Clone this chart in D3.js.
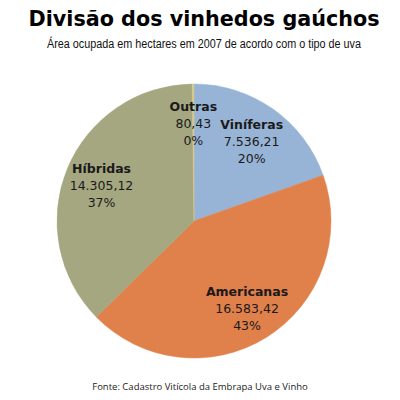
<!DOCTYPE html>
<html>
<head>
<meta charset="utf-8">
<script src="https://cdn.jsdelivr.net/npm/d3@7"></script>
<style>
  body { margin: 0; background: #fff; }
  svg { display: block; }
</style>
</head>
<body>
<svg id="chart" width="400" height="400"></svg>
<script>
// tipos de uva, clockwise from 12 o'clock
var categories = ["Viníferas", "Americanas", "Híbridas", "Outras"];
var hectares = [7536.21, 16583.42, 14305.12, 80.43];
var colors = ["#97b4d6", "#e0804a", "#a5a781", "#d8c98a"];

var title = "Divisão dos vinhedos gaúchos";
var subtitle = "Área ocupada em hectares em 2007 de acordo com o tipo de uva";
var source = "Fonte: Cadastro Vitícola da Embrapa Uva e Vinho";

var width = 400, height = 400;
var cx = 194, cy = 221, radius = 137;

var br = d3.formatLocale({decimal: ",", thousands: ".", grouping: [3], currency: ["R$", ""]});
var fmtNum = br.format(",.2f");
var fmtPct = d3.format(".0%");

var svg = d3.select("#chart");

svg.append("text")
  .attr("x", 204).attr("y", 26)
  .attr("text-anchor", "middle")
  .style("font-family", "DejaVu Sans, Verdana, sans-serif")
  .style("font-weight", "bold")
  .style("font-size", "22px")
  .attr("textLength", 351)
  .attr("lengthAdjust", "spacingAndGlyphs")
  .style("fill", "#000")
  .text(title);

svg.append("text")
  .attr("x", 204).attr("y", 48)
  .attr("text-anchor", "middle")
  .style("font-family", "Liberation Sans, Arial, sans-serif")
  .style("font-size", "12px")
  .attr("textLength", 314)
  .attr("lengthAdjust", "spacingAndGlyphs")
  .style("fill", "#111")
  .text(subtitle);

var data = categories.map(function(c, i) {
  return {name: c, value: hectares[i], color: colors[i]};
});
var total = d3.sum(hectares);

var pie = d3.pie()
  .value(function(d) { return d.value; })
  .sort(null);

var arc = d3.arc().innerRadius(0).outerRadius(radius);
var labelArc = d3.arc().innerRadius(radius * 0.73).outerRadius(radius * 0.73);

var g = svg.append("g").attr("transform", "translate(" + cx + "," + cy + ")");

g.selectAll("path")
  .data(pie(data))
  .enter()
  .append("path")
  .attr("d", arc)
  .attr("fill", function(d) { return d.data.color; })
  .attr("stroke", function(d) { return d.data.color; })
  .attr("stroke-width", 0.5);

var labels = g.selectAll(".label")
  .data(pie(data))
  .enter()
  .append("text")
  .attr("class", "label")
  .attr("transform", function(d) {
    var c = labelArc.centroid(d);
    return "translate(" + c[0] + "," + (c[1] - 10) + ")";
  })
  .attr("text-anchor", "middle")
  .style("font-family", "DejaVu Sans, Verdana, sans-serif")
  .style("font-size", "12.5px")
  .style("fill", "#1a1a1a");

labels.append("tspan")
  .attr("x", 0).attr("dy", 0)
  .style("font-weight", "bold")
  .text(function(d) { return d.data.name; });

labels.append("tspan")
  .attr("x", 0).attr("dy", 17)
  .text(function(d) { return fmtNum(d.data.value); });

labels.append("tspan")
  .attr("x", 0).attr("dy", 17)
  .text(function(d) { return fmtPct(d.data.value / total); });

svg.append("text")
  .attr("x", 200).attr("y", 390)
  .attr("text-anchor", "middle")
  .style("font-family", "Open Sans, sans-serif")
  .style("font-size", "9.5px")
  .style("fill", "#222")
  .text(source);
</script>
</body>
</html>
